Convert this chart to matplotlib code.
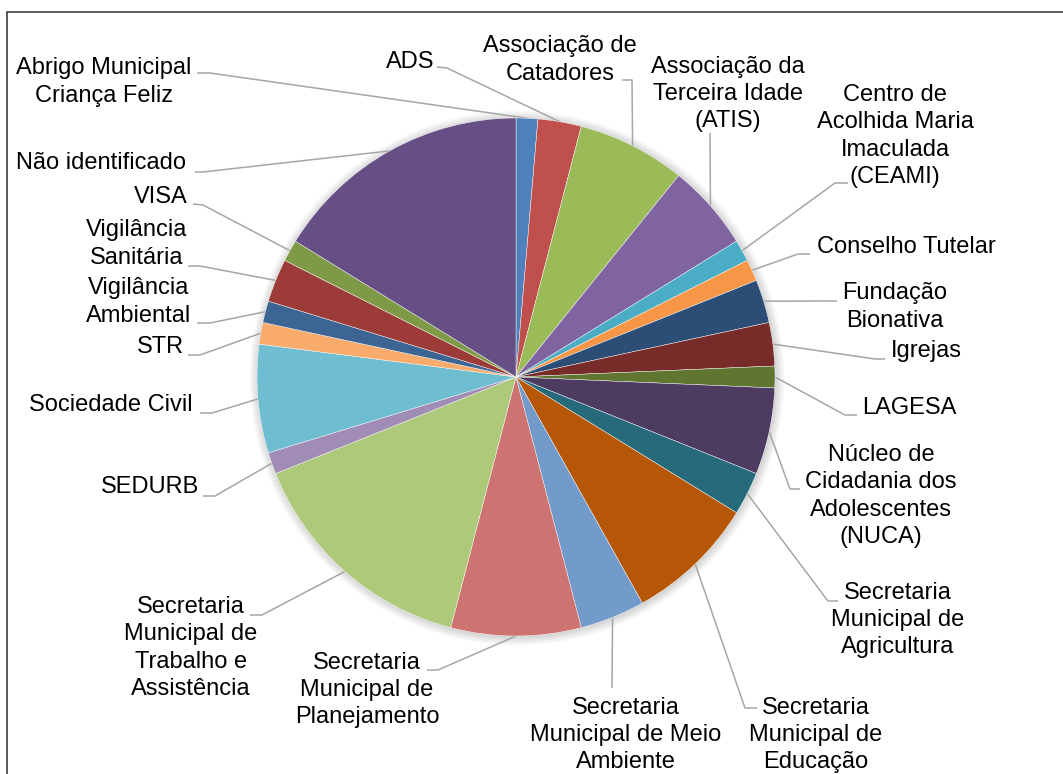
import matplotlib
matplotlib.use("Agg")
import matplotlib.pyplot as plt
import numpy as np
from matplotlib.patches import Rectangle, Circle

# data, in the order of the slices (clockwise from the top)
labels = ["Abrigo Municipal\nCriança Feliz", "ADS", "Associação de\nCatadores",
          "Associação da\nTerceira Idade\n(ATIS)", "Centro de\nAcolhida Maria\nImaculada\n(CEAMI)",
          "Conselho Tutelar", "Fundação\nBionativa", "Igrejas", "LAGESA",
          "Núcleo de\nCidadania dos\nAdolescentes\n(NUCA)",
          "Secretaria\nMunicipal de\nAgricultura", "Secretaria\nMunicipal de\nEducação",
          "Secretaria\nMunicipal de Meio\nAmbiente", "Secretaria\nMunicipal de\nPlanejamento",
          "Secretaria\nMunicipal de\nTrabalho e\nAssistência", "SEDURB", "Sociedade Civil",
          "STR", "Vigilância\nAmbiental", "Vigilância\nSanitária", "VISA", "Não identificado"]
values = [1, 2, 5, 4, 1, 1, 2, 2, 1, 4, 2, 6, 3, 6, 11, 1, 5, 1, 1, 2, 1, 12]
colors = ["#4F81BD", "#C0504D", "#9BBB59", "#8064A2", "#4BACC6", "#F79646",
          "#2C4D75", "#772C2A", "#5F7530", "#4D3B62", "#276A7C", "#B65708",
          "#729ACA", "#CD7371", "#AFC97A", "#A18CB5", "#6FBDD1", "#F9AB6B",
          "#3C6594", "#9D3B38", "#7E9A46", "#664F84"]

# layout in pixels, measured from the top left corner
W, H = 1063, 774
CX, CY, R = 516, 377, 259
text_pos = [(104, 82), (410, 62), (560, 60), (728, 94), (895, 136), (906, 247),
            (895, 307), (926, 351), (909, 408), (881, 496), (898, 620), (816, 735),
            (626, 735), (367, 690), (191, 648), (150, 487), (111, 405), (160, 347),
            (139, 302), (137, 244), (161, 197), (101, 163)]
leader_pts = [[(197, 73), (210, 73)], [(437, 67), (447, 68)], [(622, 80), (632, 80)],
              [(710, 133)], [(848, 183), (835, 183)], [(810, 254), (798, 254)],
              [(837, 301)], [(885, 359), (875, 359)], [(857, 415), (845, 415)],
              [(800, 489), (790, 489)], [(838, 601), (828, 601)], [(757, 708), (745, 708)],
              [(612, 688)], [(427, 670), (438, 670)], [(250, 615), (262, 615)],
              [(203, 496), (215, 496)], [(200, 413), (212, 413)], [(188, 355), (200, 355)],
              [(197, 323), (210, 323)], [(188, 266), (200, 266)], [(193, 204), (203, 205)],
              [(195, 172), (203, 172)]]

plt.rcParams['font.family'] = ['Liberation Sans', 'DejaVu Sans']

def flip(p):
    #pixel coords (y down) to data coords (y up)
    return p[0], H - p[1]

fig = plt.figure(figsize=(W / 100, H / 100), dpi=100)
ax = fig.add_axes([0, 0, 1, 1])

# soft shadow round the pie
for i in range(7):
    ax.add_patch(Circle((CX + 1, H - CY - 1), R + 0.5 + i * 1.3, color="black",
                        alpha=0.022, lw=0, zorder=0))

wedges, _ = ax.pie(values, colors=colors, startangle=90, counterclock=False,
                   center=(CX, H - CY), radius=R,
                   wedgeprops=dict(edgecolor="white", linewidth=0.3))
for w in wedges:
    w.set_zorder(2)

for w, lab, tp, pts in zip(wedges, labels, text_pos, leader_pts):
    mid = np.deg2rad((w.theta1 + w.theta2) / 2)
    edge = (CX + R * np.cos(mid), H - CY + R * np.sin(mid))
    path = [flip(p) for p in pts] + [edge]
    xs, ys = zip(*path)
    ax.plot(xs, ys, color="#A6A6A6", lw=1.1, zorder=1, solid_capstyle="butt")
    x, y = flip(tp)
    ax.text(x, y, lab, ha="center", va="center", multialignment="center",
            fontsize=17, color="black", linespacing=1.3)

# chart frame, cut off at the right and bottom
ax.add_patch(Rectangle((7, -20), W + 50, H - 12 + 20, fill=False,
                       edgecolor="#404040", lw=1.2, zorder=5))

ax.set_xlim(0, W)
ax.set_ylim(0, H)
ax.set_aspect("auto")
ax.axis("off")
fig.savefig("out.png", dpi=100)
